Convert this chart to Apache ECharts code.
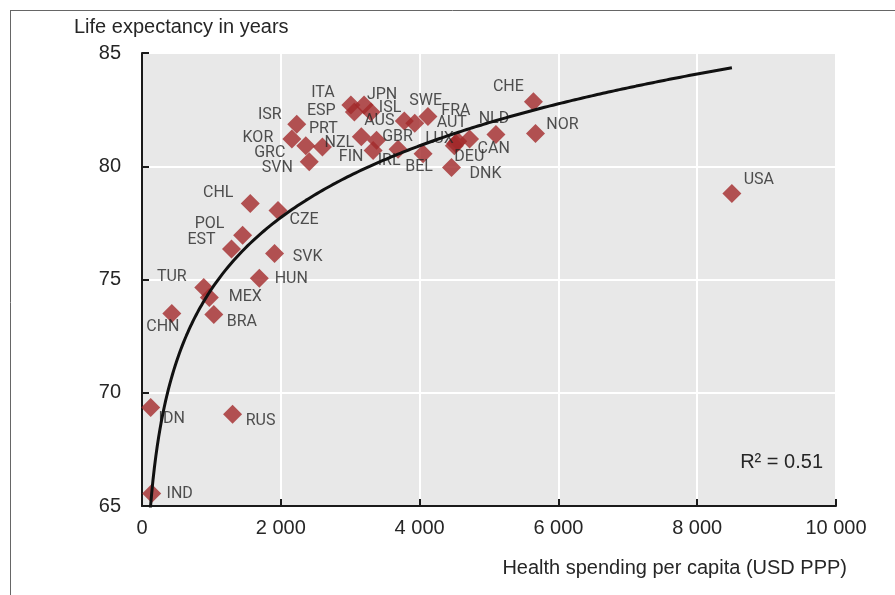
<!DOCTYPE html>
<html>
<head>
<meta charset="utf-8">
<script src="https://cdn.jsdelivr.net/npm/echarts@6/dist/echarts.min.js"></script>
<style>
  html, body { margin: 0; padding: 0; background: #ffffff; }
  #chart { width: 895px; height: 595px; }
</style>
</head>
<body>
<div id="chart"></div>
<script>
// Country codes, health spending per capita (USD PPP) and life expectancy (years)
const countries = ['USA','CHE','NOR','NLD','CAN','DEU','AUT','LUX','DNK','BEL','FRA','SWE','AUS','IRL','GBR','FIN','NZL','ISL','JPN','ESP','ITA','PRT','SVN','GRC','KOR','ISR','CZE','CHL','SVK','POL','EST','HUN','TUR','MEX','BRA','CHN','RUS','IDN','IND'];
const spending  = [8500, 5640, 5670, 5100, 4520, 4500, 4550, 4720, 4460, 4050, 4120, 3930, 3780, 3690, 3380, 3330, 3160, 3300, 3200, 3060, 3010, 2600, 2410, 2360, 2160, 2230, 1960, 1560, 1910, 1450, 1290, 1690, 890, 970, 1035, 430, 1305, 125, 140];
const lifeExpectancy = [78.8, 82.85, 81.45, 81.4, 81.0, 80.9, 81.1, 81.2, 79.95, 80.55, 82.2, 81.9, 82.0, 80.75, 81.15, 80.7, 81.3, 82.4, 82.7, 82.4, 82.7, 80.85, 80.2, 80.9, 81.2, 81.85, 78.05, 78.35, 76.15, 76.95, 76.35, 75.05, 74.65, 74.2, 73.45, 73.5, 69.05, 69.35, 65.55];

// Axis ranges and tick labels
const xRange = [0, 10000], xStep = 2000;
const yRange = [65, 85], yStep = 5;

// Logarithmic trend, life expectancy = intercept + slope * ln(spending)
const trendIntercept = 43.0;
const trendSlope = 4.57;
const rSquaredText = 'R\u00B2 = 0.51';

// Where each country code sits relative to its marker centre (px)
const labelOffsets = {
  USA:[27,-13], CHE:[-25,-15], NOR:[27,-8], NLD:[-2,-16], CAN:[38,5], DEU:[15,11],
  AUT:[-6,-18], LUX:[-30,0], DNK:[34,7], BEL:[-4,13], FRA:[28,-5], SWE:[11,-22],
  AUS:[-25,0], IRL:[-9,12], GBR:[21,-3], FIN:[-22,7], NZL:[-22,6], ISL:[19,-4],
  JPN:[18,-10], ESP:[-33,-1], ITA:[-28,-12], PRT:[1,-18], SVN:[-32,6], GRC:[-36,7],
  KOR:[-34,-1], ISR:[-27,-9], CZE:[26,10], CHL:[-32,-11], SVK:[33,4], POL:[-33,-11],
  EST:[-30,-9], HUN:[32,1], TUR:[-32,-10], MEX:[36,-1], BRA:[28,7], CHN:[-9,14],
  RUS:[28,7], IDN:[21,12], IND:[28,0]
};

// Trend curve sampled along the spending axis, from the low end up to the highest spender
const xMaxData = Math.max(...spending);
const trend = [];
for (let x = 80; x <= xMaxData; x += 20) trend.push([x, trendIntercept + trendSlope * Math.log(x)]);
trend.push([xMaxData, trendIntercept + trendSlope * Math.log(xMaxData)]);

const FONT = '"Liberation Sans", Arial, sans-serif';
const LABEL_FONT = 'Roboto, "Liberation Sans", sans-serif';
const TEXT = '#262626';
const MARK = '#a3292b';
const SYMBOL = 19;

const points = countries.map((c, i) => {
  const off = labelOffsets[c] || [0, 0];
  return {
    name: c,
    value: [spending[i], lifeExpectancy[i]],
    label: { position: [SYMBOL / 2 + off[0], SYMBOL / 2 + off[1]] }
  };
});

const chart = echarts.init(document.getElementById('chart'), null, { renderer: 'canvas' });
chart.setOption({
  animation: false,
  backgroundColor: '#ffffff',
  title: {
    text: 'Life expectancy in years',
    left: 69, top: 12,
    textStyle: { fontFamily: FONT, fontSize: 20, fontWeight: 'normal', color: TEXT }
  },
  grid: { left: 142, top: 53, right: 59, bottom: 89, show: true, backgroundColor: '#e8e8e8', borderWidth: 0 },
  xAxis: {
    type: 'value', min: xRange[0], max: xRange[1], interval: xStep,
    name: 'Health spending per capita (USD PPP)',
    nameLocation: 'end', nameGap: 11,
    nameTextStyle: { fontFamily: FONT, fontSize: 20, color: TEXT, align: 'right', verticalAlign: 'top', padding: [52, 0, 0, 0] },
    axisLine: { show: true, lineStyle: { color: '#1a1a1a', width: 2 } },
    axisTick: { show: true, inside: true, length: 7, lineStyle: { color: '#1a1a1a', width: 2 } },
    axisLabel: {
      margin: 12, fontFamily: FONT, fontSize: 20, color: TEXT,
      formatter: v => String(v).replace(/\B(?=(\d{3})+(?!\d))/g, '\u00A0')
    },
    splitLine: { show: true, lineStyle: { color: '#ffffff', width: 2 } }
  },
  yAxis: {
    type: 'value', min: yRange[0], max: yRange[1], interval: yStep,
    axisLine: { show: true, lineStyle: { color: '#1a1a1a', width: 2 } },
    axisTick: { show: true, inside: true, length: 7, lineStyle: { color: '#1a1a1a', width: 2 } },
    axisLabel: { margin: 21, fontFamily: FONT, fontSize: 20, color: TEXT },
    splitLine: { show: true, lineStyle: { color: '#ffffff', width: 2 } }
  },
  graphic: [
    { type: 'line', shape: { x1: 10, y1: 10.5, x2: 895, y2: 10.5 }, style: { stroke: '#666', lineWidth: 1 } },
    { type: 'line', shape: { x1: 10.5, y1: 10, x2: 10.5, y2: 595 }, style: { stroke: '#666', lineWidth: 1 } },
    { type: 'text', right: 72, top: 452, style: { text: rSquaredText, font: '20px ' + FONT, fill: TEXT } }
  ],
  series: [
    {
      type: 'scatter', name: 'Countries', symbol: 'diamond', symbolSize: SYMBOL,
      itemStyle: { color: MARK },
      data: points,
      z: 3,
      label: {
        show: true, formatter: '{b}',
        fontFamily: LABEL_FONT, fontSize: 16, color: TEXT, align: 'center', verticalAlign: 'middle'
      }
    },
    {
      type: 'line', name: 'Trend', data: trend, showSymbol: false, symbol: 'none', clip: true,
      lineStyle: { color: '#111', width: 3 }, z: 4, silent: true
    }
  ]
});
</script>
</body>
</html>
